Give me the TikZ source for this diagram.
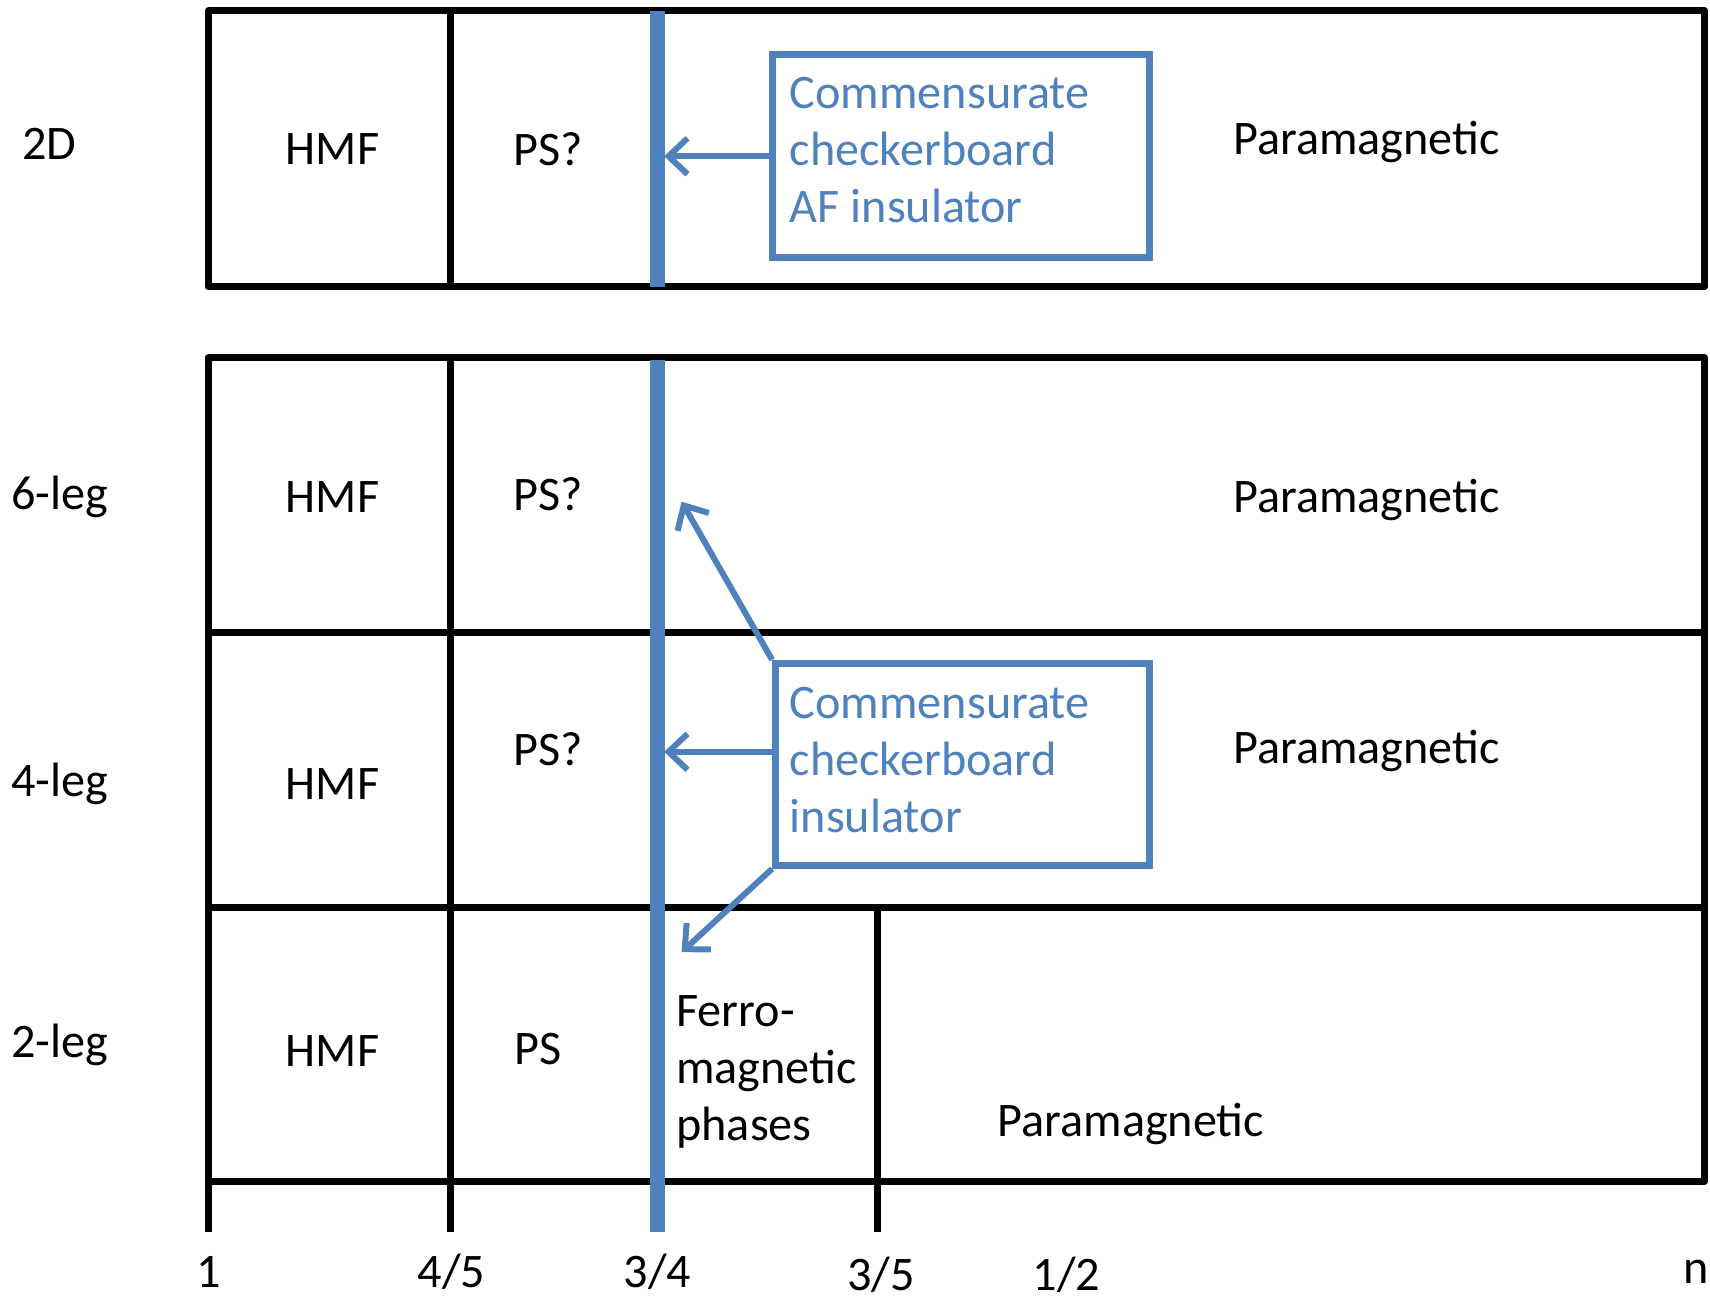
\documentclass[tikz,border=0pt]{standalone}
\usepackage{fontspec}
\setmainfont{Carlito}
\usetikzlibrary{arrows.meta}
\definecolor{obl}{HTML}{4F81BD}
\begin{document}
\begin{tikzpicture}[x=1.0906pt,y=-1.0906pt,
  frame/.style={line width=7pt,line join=round,black},
  bluebar/.style={line width=15pt,obl},
  lbl/.style={font=\fontsize{48.2}{57}\selectfont,inner sep=0pt},
  bluebox/.style={draw=obl,line width=7pt,anchor=north west,inner sep=0pt},
  barrow/.style={obl,line width=6pt,-{Straight Barb[length=19pt,width=36pt,line width=6pt]}}]
\useasboundingbox (0,0) rectangle (1568,1192);
% 2D frame
\draw[frame] (191,10) rectangle (1563,263);
\draw[frame] (413,10) -- (413,263);
\draw[bluebar] (603,10) -- (603,263);
% lower frame
\draw[frame] (191,328) rectangle (1563,1083);
\draw[frame] (191,580) -- (1563,580);
\draw[frame] (191,832) -- (1563,832);
\draw[frame] (191,1083) -- (191,1130);
\draw[frame] (413,328) -- (413,1130);
\draw[frame] (805,832) -- (805,1130);
\draw[bluebar] (603,330) -- (603,1130);
\coordinate (barx) at (609,0);
\coordinate (bar6) at (625,460);
\coordinate (bar2) at (625,873);
% row labels
\node[lbl] (l2d) at (45,132) {2D};
\node[lbl] (l6) at (55,456) {6-leg};
\node[lbl] (l4) at (55,719) {4-leg};
\node[lbl] (l2) at (55,958) {2-leg};
% HMF
\node[lbl] (h1) at (305,137) {HMF};
\node[lbl] (h2) at (305,456) {HMF};
\node[lbl] (h3) at (305,719) {HMF};
\node[lbl] (h4) at (305,964) {HMF};
% PS
\node[lbl] (p1) at (503,137) {PS?};
\node[lbl] (p2) at (503,453) {PS?};
\node[lbl] (p3) at (503,687) {PS?};
\node[lbl] (p4) at (493,962) {PS};
% Paramagnetic
\node[lbl] (m1) at (1253,130) {Paramagnetic};
\node[lbl] (m2) at (1253,458) {Paramagnetic};
\node[lbl] (m3) at (1253,689) {Paramagnetic};
\node[lbl] (m4) at (1037,1031) {Paramagnetic};
\node[lbl,align=left,anchor=west] (fm) at (620,983) {Ferro-\\magnetic\\phases};
% boxes
\node[bluebox,minimum width=377pt,minimum height=203pt] (b1) at (705,47) {};
\node[lbl,text=obl,align=left,anchor=west] (t1) at (724,138) {Commensurate\\checkerboard\\AF insulator};
\node[bluebox,minimum width=374pt,minimum height=202pt] (b2) at (708,605) {};
\node[lbl,text=obl,align=left,anchor=west] (t2) at (724,697) {Commensurate\\checkerboard\\insulator};
\draw[barrow] (b1.west) -- (b1.west -| barx);
\draw[barrow] ([yshift=12.5pt]b2.west) -- ([yshift=12.5pt]b2.west -| barx);
\draw[barrow] (b2.north west) -- (bar6);
\draw[barrow] (b2.south west) -- (bar2);
% axis labels
\node[lbl] (a1) at (191,1166) {1};
\node[lbl] (a2) at (414,1166) {4/5};
\node[lbl] (a3) at (603,1166) {3/4};
\node[lbl] (a4) at (808,1169) {3/5};
\node[lbl] (a5) at (978,1169) {1/2};
\node[lbl] (a6) at (1555,1166) {n};
\end{tikzpicture}
\end{document}
